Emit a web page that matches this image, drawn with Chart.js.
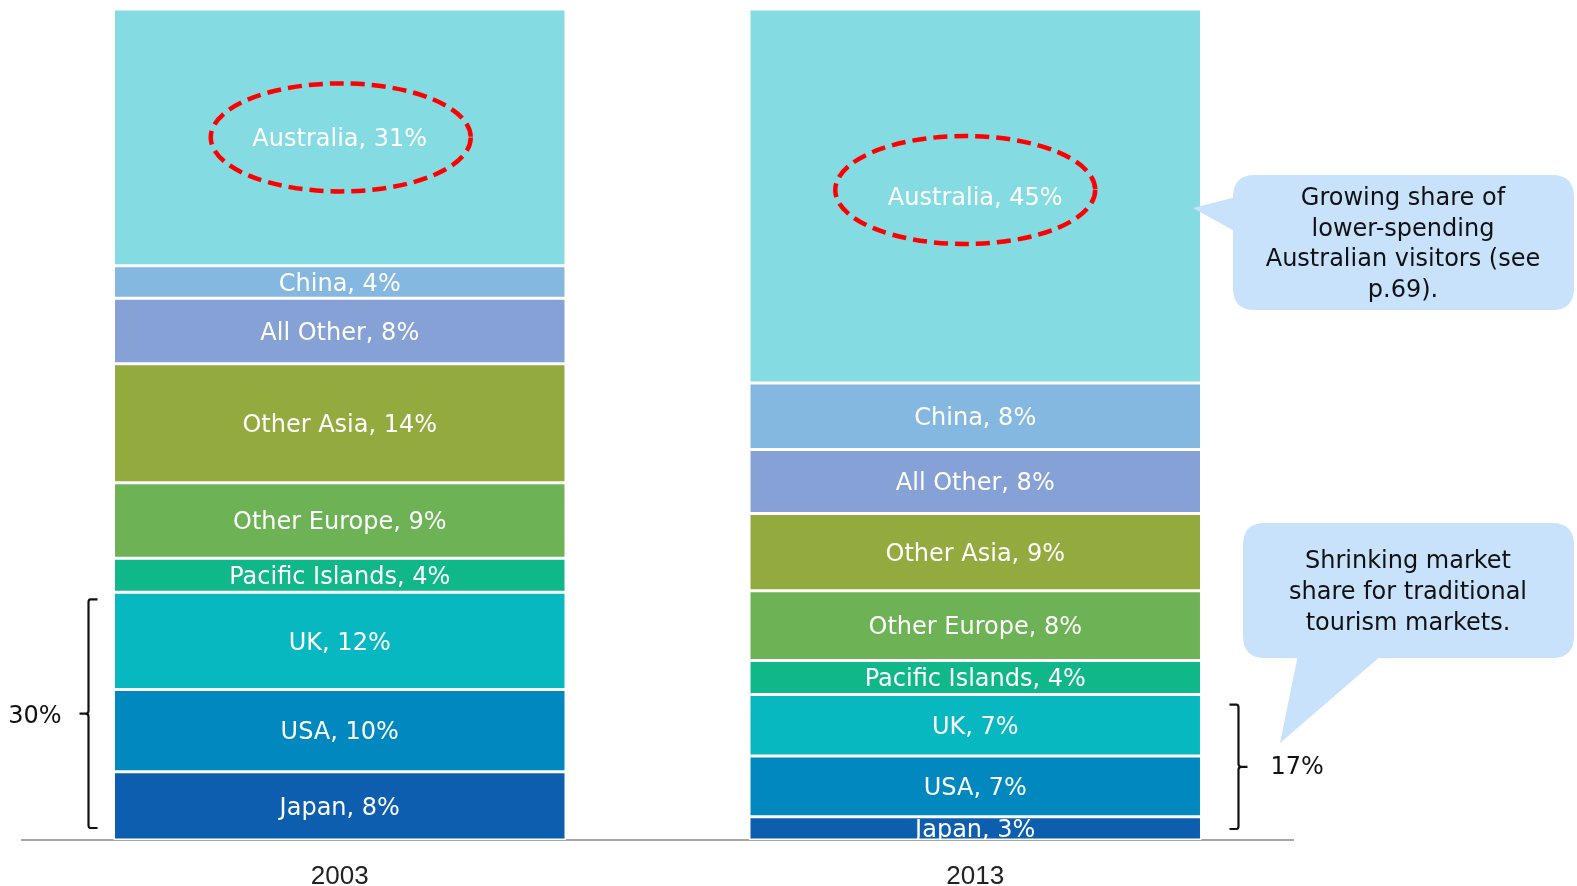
<!DOCTYPE html>
<html>
<head>
<meta charset="utf-8">
<style>
  html, body { margin: 0; padding: 0; background: #fff; }
  #wrap { width: 1577px; height: 886px; }
</style>
<script src="https://cdn.jsdelivr.net/npm/chart.js@4.4.0/dist/chart.umd.min.js"></script>
</head>
<body>
<div id="wrap"><canvas id="visitor__share"></canvas></div>
<script>
'use strict';

// visitor arrivals by market, share of total (%), 2003 vs 2013
let years = ["2003", "2013"];
let markets = ["Japan", "USA", "UK", "Pacific Islands", "Other Europe", "Other Asia", "All Other", "China", "Australia"];
let japan = [8.2, 2.8];
let usa = [9.9, 7.3];
let uk = [11.7, 7.4];
let pacific = [4.1, 4.1];
let otherEurope = [9.1, 8.4];
let otherAsia = [14.3, 9.3];
let allOther = [7.9, 7.7];
let china = [3.9, 8.0];
let australia = [30.9, 45.0];
let colors = ["#0D5EAF", "#0189BF", "#08B8C0", "#10B789", "#6EB256", "#93AA3F", "#86A1D6", "#85B8E1", "#84DBE2"];

let traditionalShare = ["30%", "17%"];
let note1 = ["Growing share of", "lower-spending", "Australian visitors (see", "p.69)."];
let note2 = ["Shrinking market", "share for traditional", "tourism markets."];

let series = [japan, usa, uk, pacific, otherEurope, otherAsia, allOther, china, australia];

let labelFont = '24px "DejaVu Sans", sans-serif';

// "Name, xx%" inside every segment
let segmentLabels = {
  id: 'segmentLabels',
  afterDatasetsDraw(chart) {
    let ctx = chart.ctx;
    let area = chart.chartArea;
    ctx.save();
    ctx.beginPath();
    ctx.rect(area.left, area.top, area.right - area.left, area.bottom - area.top);
    ctx.clip();
    ctx.font = labelFont;
    ctx.fillStyle = '#fff';
    ctx.textAlign = 'center';
    ctx.textBaseline = 'middle';
    chart.data.datasets.forEach(function (ds, i) {
      chart.getDatasetMeta(i).data.forEach(function (bar, j) {
        let y = (bar.y + bar.base) / 2;
        ctx.fillText(ds.label + ', ' + Math.round(ds.data[j]) + '%', bar.x, y + 2.5);
      });
    });
    ctx.restore();
  }
};

function roundRect(ctx, x, y, w, h, r) {
  ctx.moveTo(x + r, y);
  ctx.lineTo(x + w - r, y);
  ctx.quadraticCurveTo(x + w, y, x + w, y + r);
  ctx.lineTo(x + w, y + h - r);
  ctx.quadraticCurveTo(x + w, y + h, x + w - r, y + h);
  ctx.lineTo(x + r, y + h);
  ctx.quadraticCurveTo(x, y + h, x, y + h - r);
  ctx.lineTo(x, y + r);
  ctx.quadraticCurveTo(x, y, x + r, y);
}

function bracket(ctx, x, top, bottom, dir) {
  // dir = 1 : opens to the right (left bracket), -1 : opens to the left
  let mid = (top + bottom) / 2;
  ctx.beginPath();
  ctx.moveTo(x + 9 * dir, top);
  ctx.lineTo(x + 2 * dir, top);
  ctx.quadraticCurveTo(x, top, x, top + 3);
  ctx.lineTo(x, mid - 3);
  ctx.quadraticCurveTo(x, mid, x - 3 * dir, mid);
  ctx.lineTo(x - 9 * dir, mid);
  ctx.moveTo(x - 3 * dir, mid);
  ctx.quadraticCurveTo(x, mid, x, mid + 3);
  ctx.lineTo(x, bottom - 3);
  ctx.quadraticCurveTo(x, bottom, x + 2 * dir, bottom);
  ctx.lineTo(x + 9 * dir, bottom);
  ctx.stroke();
  return mid;
}

let notes = {
  id: 'notes',
  afterDraw(chart) {
    let ctx = chart.ctx;
    let area = chart.chartArea;
    let aus = chart.getDatasetMeta(8).data;
    let ukBars = chart.getDatasetMeta(2).data;

    // red dashed ellipses around the Australia labels
    ctx.save();
    ctx.strokeStyle = '#FF0000';
    ctx.lineWidth = 4.5;
    ctx.setLineDash([14, 7]);
    let dx = [1, -10];
    let dy = [0, -6];
    aus.forEach(function (bar, j) {
      let cy = (bar.y + bar.base) / 2 + dy[j];
      ctx.beginPath();
      ctx.ellipse(bar.x + dx[j], cy, 130, 54, 0, 0, Math.PI * 2);
      ctx.stroke();
    });
    ctx.restore();

    // brackets for Japan + USA + UK
    ctx.save();
    ctx.strokeStyle = '#111';
    ctx.lineWidth = 2.2;
    ctx.fillStyle = '#111';
    ctx.font = labelFont;
    ctx.textBaseline = 'middle';
    let b0 = ukBars[0];
    let x0 = b0.x - b0.width / 2 - 25;
    let m0 = bracket(ctx, x0, b0.y + 7, area.bottom - 12, 1);
    ctx.textAlign = 'right';
    ctx.fillText(traditionalShare[0], x0 - 27, m0 + 3);
    let b1 = ukBars[1];
    let x1 = b1.x + b1.width / 2 + 37;
    let m1 = bracket(ctx, x1, b1.y + 10, area.bottom - 11, -1);
    ctx.textAlign = 'left';
    ctx.fillText(traditionalShare[1], x1 + 32, m1 + 1);
    ctx.restore();

    // callouts
    ctx.save();
    ctx.fillStyle = '#C7E2FA';
    ctx.beginPath();
    roundRect(ctx, 1233, 175, 341, 135, 22);
    ctx.fill();
    ctx.beginPath();
    ctx.moveTo(1236, 197);
    ctx.lineTo(1193, 208);
    ctx.lineTo(1236, 232);
    ctx.closePath();
    ctx.fill();

    ctx.beginPath();
    roundRect(ctx, 1243, 523, 331, 135, 22);
    ctx.fill();
    ctx.beginPath();
    ctx.moveTo(1298, 655);
    ctx.lineTo(1280, 743);
    ctx.lineTo(1382, 655);
    ctx.closePath();
    ctx.fill();

    ctx.fillStyle = '#111';
    ctx.font = labelFont;
    ctx.textAlign = 'center';
    ctx.textBaseline = 'middle';
    note1.forEach(function (line, i) {
      ctx.fillText(line, 1403, 199 + i * 30.5);
    });
    note2.forEach(function (line, i) {
      ctx.fillText(line, 1408, 562 + i * 31);
    });
    ctx.restore();
  }
};

let datasets = markets.map(function (name, i) {
  return {
    label: name,
    data: series[i],
    backgroundColor: colors[i],
    borderColor: '#fff',
    borderWidth: 1.5,
    borderSkipped: false,
  };
});

let chart = new Chart(document.getElementById("visitor__share"), {
  type: 'bar',
  data: {
    labels: years,
    datasets: datasets,
  },
  options: {
    responsive: true,
    maintainAspectRatio: false,
    animation: false,
    events: [],
    categoryPercentage: 0.712,
    barPercentage: 1,
    layout: {
      padding: { left: 22, right: 284, top: 9, bottom: 0 }
    },
    plugins: {
      legend: { display: false },
      tooltip: { enabled: false },
    },
    scales: {
      x: {
        stacked: true,
        grid: { display: false, drawTicks: false },
        border: { display: true, color: '#A6A6A6', width: 2 },
        ticks: {
          color: '#222',
          padding: 21,
          font: { family: '"Liberation Sans", Arial, sans-serif', size: 26 },
        },
        afterFit: function (scale) {
          scale.height = 46;
        },
      },
      y: {
        stacked: true,
        display: false,
        min: 0,
        max: 100,
      }
    },
  },
  plugins: [segmentLabels, notes],
});
</script>
</body>
</html>
